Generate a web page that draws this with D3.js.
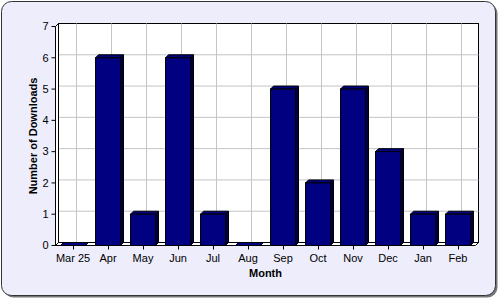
<!DOCTYPE html>
<html>
<head>
<meta charset="utf-8">
<script src="https://cdn.jsdelivr.net/npm/d3@7"></script>
<style>
  body { margin: 0; background: #fff; }
  text { font-family: "Liberation Sans", Arial, sans-serif; }
</style>
</head>
<body>
<div id="chart"></div>
<script>
const months = ['Mar 25', 'Apr', 'May', 'Jun', 'Jul', 'Aug', 'Sep', 'Oct', 'Nov', 'Dec', 'Jan', 'Feb'];
const downloads = [0, 6, 1, 6, 1, 0, 5, 2, 5, 3, 1, 1];
const yTicks = [0, 1, 2, 3, 4, 5, 6, 7];

const width = 500;
const height = 300;
const depth = 3;
const plotLeft = 55.5, plotRight = 475.5, plotTop = 26.5, plotBottom = 245.5;

const svg = d3.select('#chart').append('svg')
  .attr('width', width)
  .attr('height', height);

// card + shadow
svg.append('rect')
  .attr('x', 3.5).attr('y', 3.5)
  .attr('width', 494).attr('height', 294)
  .attr('rx', 10)
  .attr('fill', '#777');
svg.append('rect')
  .attr('x', 1.5).attr('y', 1.5)
  .attr('width', 494).attr('height', 294)
  .attr('rx', 10)
  .attr('fill', '#ededfc')
  .attr('stroke', '#333');

const x = d3.scaleBand()
  .domain(months)
  .range([plotLeft, plotRight])
  .paddingInner(10 / 35)
  .paddingOuter(5 / 35);

const y = d3.scaleLinear()
  .domain([0, 7])
  .range([plotBottom, plotTop]);

const pts = p => p.map(d => d.join(',')).join(' ');
const mid = d => Math.round(x(d) + x.bandwidth() / 2) + 0.5;

// back wall
svg.append('rect')
  .attr('x', plotLeft + depth).attr('y', plotTop - depth)
  .attr('width', plotRight - plotLeft).attr('height', plotBottom - plotTop)
  .attr('fill', '#fff')
  .attr('stroke', '#000');

// grid on back wall
svg.append('g')
  .selectAll('line')
  .data(yTicks.slice(1, -1))
  .join('line')
  .attr('x1', plotLeft + depth).attr('x2', plotRight + depth)
  .attr('y1', d => y(d) - depth).attr('y2', d => y(d) - depth)
  .attr('stroke', '#c4c4c4');

svg.append('g')
  .selectAll('line')
  .data(months)
  .join('line')
  .attr('x1', d => mid(d) + depth)
  .attr('x2', d => mid(d) + depth)
  .attr('y1', plotTop - depth).attr('y2', plotBottom - depth)
  .attr('stroke', '#c4c4c4');

// left wall and floor
svg.append('polygon')
  .attr('points', pts([[plotLeft, plotTop], [plotLeft + depth, plotTop - depth], [plotLeft + depth, plotBottom - depth], [plotLeft, plotBottom]]))
  .attr('fill', '#fff')
  .attr('stroke', '#000');
svg.append('polygon')
  .attr('points', pts([[plotLeft, plotBottom], [plotLeft + depth, plotBottom - depth], [plotRight + depth, plotBottom - depth], [plotRight, plotBottom]]))
  .attr('fill', '#fff')
  .attr('stroke', '#000');

// bars
const bars = svg.append('g')
  .selectAll('g')
  .data(months.map((m, i) => ({ name: m, value: downloads[i] })))
  .join('g');

bars.append('polygon')
  .attr('points', d => {
    const x0 = x(d.name) + x.bandwidth(), yt = y(d.value);
    return pts([[x0, yt], [x0 + depth, yt - depth], [x0 + depth, plotBottom - depth], [x0, plotBottom]]);
  })
  .attr('fill', '#000040')
  .attr('stroke', '#000');

bars.append('polygon')
  .attr('points', d => {
    const x0 = x(d.name), x1 = x0 + x.bandwidth(), yt = y(d.value);
    return pts([[x0, yt], [x0 + depth, yt - depth], [x1 + depth, yt - depth], [x1, yt]]);
  })
  .attr('fill', '#000080')
  .attr('stroke', '#000');

bars.filter(d => d.value > 0).append('rect')
  .attr('x', d => x(d.name))
  .attr('y', d => y(d.value))
  .attr('width', x.bandwidth())
  .attr('height', d => plotBottom - y(d.value))
  .attr('fill', '#000080')
  .attr('stroke', '#000');

// y axis ticks
const yAxis = svg.append('g');
yAxis.selectAll('line')
  .data(yTicks)
  .join('line')
  .attr('x1', plotLeft - 4).attr('x2', plotLeft)
  .attr('y1', d => y(d)).attr('y2', d => y(d))
  .attr('stroke', '#000');
yAxis.selectAll('text')
  .data(yTicks)
  .join('text')
  .attr('x', plotLeft - 7)
  .attr('y', d => y(d))
  .attr('dy', '0.35em')
  .attr('text-anchor', 'end')
  .attr('font-size', 11)
  .text(d => d);

// x axis ticks
const xAxis = svg.append('g');
xAxis.selectAll('line')
  .data(months)
  .join('line')
  .attr('x1', d => mid(d))
  .attr('x2', d => mid(d))
  .attr('y1', plotBottom).attr('y2', plotBottom + 4)
  .attr('stroke', '#000');
xAxis.selectAll('text')
  .data(months)
  .join('text')
  .attr('x', d => x(d) + x.bandwidth() / 2)
  .attr('y', plotBottom + 16)
  .attr('text-anchor', 'middle')
  .attr('font-size', 11)
  .text(d => d);

// axis titles
svg.append('text')
  .attr('x', (plotLeft + plotRight) / 2)
  .attr('y', 277)
  .attr('text-anchor', 'middle')
  .attr('font-size', 11)
  .attr('font-weight', 'bold')
  .text('Month');

svg.append('text')
  .attr('transform', `translate(37, ${(plotTop + plotBottom) / 2}) rotate(-90)`)
  .attr('text-anchor', 'middle')
  .attr('font-size', 11)
  .attr('font-weight', 'bold')
  .text('Number of Downloads');
</script>
</body>
</html>
